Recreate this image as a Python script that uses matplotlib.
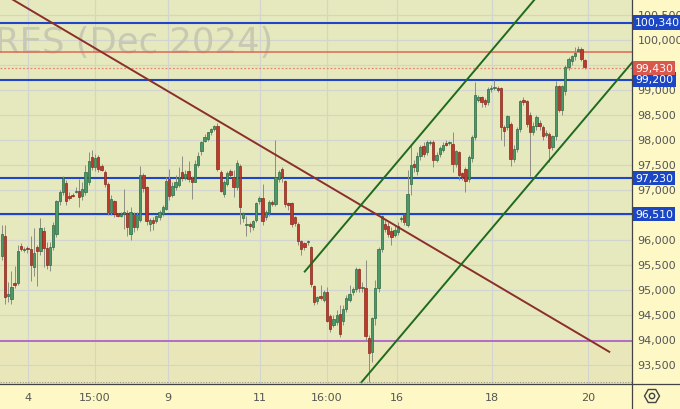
import numpy as np
import matplotlib
matplotlib.use("Agg")
import matplotlib.pyplot as plt
from matplotlib.ticker import FuncFormatter
from matplotlib.patches import RegularPolygon, Circle
from matplotlib.lines import Line2D
import matplotlib.transforms as mtransforms

# === candles (hourly bars) ===
opens = [
    95680, 96075, 94880, 94810, 95130, 95130, 95870, 95800, 95815, 95810,
    95460, 95860, 95775, 96180, 95840, 95500, 95850, 96110, 96780, 96950,
    97130, 96880, 96900, 96950, 96980, 96870, 96960, 97150, 97645, 97445,
    97650, 97475, 97345, 97110, 96550, 96770, 96510, 96480, 96520, 96530,
    96110, 96500, 96255, 96390, 97295, 97055, 96320, 96400, 96375, 96450,
    96510, 96615, 97210, 96890, 97050, 97100, 97345, 97230, 97365, 97230,
    97160, 97500, 97775, 97975, 98010, 98145, 98210, 98275, 97345, 96910,
    97110, 97365, 97255, 97045, 97475, 96430, 96300, 96320, 96255, 96400,
    96780, 96830, 96445, 96525, 96760, 96710, 97210, 97410, 97175, 96725,
    96725, 96445, 96310, 95965, 95925, 95950, 95845, 95075, 94765, 94870,
    94800, 94950, 94475, 94300, 94360, 94510, 94375, 94610, 94790, 94960,
    95010, 95410, 95030, 95025, 94025, 93745, 94425, 95025, 95810, 96310,
    96275, 96175, 96100, 96150, 96410, 96490, 96300, 97110, 97510, 97375,
    97675, 97875, 97745, 97930, 97950, 97600, 97710, 97800, 97930, 97930,
    97910, 97510, 97760, 97325, 97410, 97210, 97625, 98045, 98800, 98845,
    98790, 98745, 99010, 99030, 99030, 99025, 98245, 98245, 98310, 97610,
    97805, 98210, 98790, 98775, 98490, 98150, 98280, 98330, 98245, 98100,
    98110, 97845, 98075, 99070, 98600, 98975, 99445, 99575, 99665, 99775,
    99810, 99595,
]
highs = [
    96290, 96300, 95150, 95375, 95480, 95900, 95930, 95850, 95880, 96075,
    96225, 95900, 96425, 96250, 95950, 95950, 96350, 96800, 97000, 97280,
    97200, 96950, 96930, 97045, 97210, 97150, 97500, 97750, 97800, 97720,
    97700, 97520, 97400, 97150, 96900, 96800, 96540, 96550, 97010, 96600,
    96650, 96560, 96560, 97480, 97330, 97080, 96430, 96450, 96500, 96600,
    96700, 97250, 97410, 97150, 97300, 97450, 97675, 97400, 97575, 97280,
    97600, 97750, 97980, 98110, 98160, 98230, 98300, 98325, 97400, 97200,
    97380, 97420, 97400, 97600, 97520, 96560, 96475, 96350, 96400, 96750,
    96880, 97110, 96600, 96800, 96800, 97990, 97400, 97450, 97200, 96760,
    96760, 96480, 96350, 96000, 95950, 95990, 95880, 95100, 94880, 95100,
    95000, 95050, 94520, 94500, 94600, 94700, 94700, 94900, 95100, 95050,
    95450, 95430, 95150, 95600, 94100, 94450, 95200, 95850, 96500, 96400,
    96350, 96250, 96300, 96350, 96480, 96520, 97400, 97900, 97600, 97750,
    97900, 97950, 98000, 98000, 98000, 97750, 97880, 97950, 97990, 97980,
    98150, 97800, 97780, 97350, 97450, 97700, 98100, 99150, 98900, 98880,
    98830, 99050, 99100, 99200, 99080, 99060, 98300, 98500, 98350, 97900,
    98250, 98800, 98850, 98800, 98550, 98350, 98500, 98400, 98300, 98200,
    98150, 98100, 99175, 99100, 99100, 99500, 99650, 99700, 99850, 99880,
    99850, 99620,
]
lows = [
    95600, 94710, 94750, 94710, 95040, 95100, 95780, 95760, 95740, 95175,
    95275, 95075, 95700, 95450, 95410, 95380, 95800, 96050, 96700, 96900,
    96700, 96790, 96850, 96930, 96650, 96800, 96900, 97100, 97400, 97380,
    97350, 97380, 97050, 96500, 96500, 96450, 96450, 96450, 96210, 96075,
    96000, 96150, 96200, 96350, 96950, 96300, 96180, 96200, 96330, 96400,
    96480, 96600, 96800, 96850, 97000, 97050, 97180, 97200, 97150, 96810,
    97150, 97450, 97700, 97950, 97980, 98100, 98180, 97380, 96950, 96850,
    97080, 97250, 96850, 97000, 96310, 96350, 96075, 96150, 96200, 96350,
    96720, 96300, 96400, 96480, 96680, 96680, 97150, 97150, 96650, 96600,
    96250, 96280, 95900, 95700, 95800, 95900, 95050, 94700, 94720, 94800,
    94750, 94350, 94150, 94250, 94300, 94050, 94300, 94550, 94750, 94900,
    94950, 94950, 94950, 94000, 93145, 93550, 94300, 94950, 95750, 96150,
    96050, 95900, 96050, 96100, 96350, 96300, 96250, 96900, 97350, 97300,
    97600, 97650, 97700, 97900, 97450, 97550, 97650, 97750, 97880, 97900,
    97350, 97450, 97200, 97200, 96945, 97150, 97550, 98000, 98750, 98650,
    98650, 98700, 98950, 98990, 98950, 98000, 97875, 98200, 97475, 97550,
    97750, 98150, 98700, 98250, 97265, 98100, 98200, 98200, 98000, 98050,
    97545, 97800, 98000, 98550, 98500, 98900, 99400, 99500, 99600, 99750,
    99580, 99420,
]
closes = [
    96110, 94845, 94920, 95050, 95090, 95775, 95820, 95815, 95810, 95490,
    95725, 95780, 96225, 95840, 95500, 95850, 96300, 96770, 96960, 97225,
    96780, 96830, 96870, 96970, 96850, 97020, 97345, 97575, 97445, 97640,
    97420, 97400, 97110, 96550, 96810, 96510, 96480, 96510, 96560, 96255,
    96550, 96255, 96500, 97295, 97030, 96365, 96390, 96330, 96475, 96550,
    96655, 97180, 96875, 97070, 97150, 97230, 97230, 97320, 97210, 97150,
    97510, 97675, 97945, 98050, 98145, 98210, 98275, 97410, 96975, 97145,
    97325, 97295, 97045, 97525, 96645, 96525, 96320, 96270, 96365, 96725,
    96830, 96365, 96545, 96755, 96720, 97245, 97345, 97245, 96710, 96700,
    96310, 96325, 95975, 95810, 95845, 95965, 95110, 94745, 94855, 94830,
    94950, 94375, 94210, 94420, 94490, 94110, 94610, 94830, 94910, 95010,
    95410, 95025, 95060, 94075, 93730, 94425, 95025, 95810, 96475, 96210,
    96110, 96045, 96200, 96280, 96440, 96345, 96910, 97500, 97445, 97675,
    97845, 97710, 97945, 97960, 97600, 97700, 97840, 97900, 97900, 97935,
    97510, 97775, 97300, 97245, 97175, 97645, 98045, 98900, 98850, 98745,
    98720, 99010, 99040, 99035, 98990, 98245, 98175, 98475, 97610, 97810,
    98210, 98775, 98760, 98310, 98145, 98280, 98450, 98270, 98075, 98130,
    97825, 98075, 99075, 98600, 99075, 99445, 99610, 99665, 99730, 99810,
    99610, 99445,
]

# time axis labels and the bar each one sits on
time_labels = ["4", "15:00", "9", "11", "16:00", "16", "18", "20"]
time_label_bars = [8.2, 29.0, 51.7, 80.2, 101.0, 122.8, 152.3, 182.1]

# === levels ===
blue_levels = [100340, 99200, 97230, 96510]
red_level = 99760
last_price = 99430
purple_level = 93975

# trend lines as (bar, price) anchors
down_trend = [(-3.6, 101065), (188.9, 93744)]
channel_top = [(93.9, 95344), (168.7, 101046)]
channel_bottom = [(111.5, 93130), (198.2, 99728)]

# === figure ===
W, H = 680, 410
fig = plt.figure(figsize=(W / 100, H / 100), dpi=100)
fig.patch.set_facecolor("#fdf8c6")
ax = fig.add_axes([0, 25 / H, 632 / W, 385 / H])
ax.set_facecolor("#e6e8bd")

ax.set_xlim(-0.53, 195.7)
ax.set_ylim(93110, 100810)

o = np.array(opens, dtype=float)
h = np.array(highs, dtype=float)
l = np.array(lows, dtype=float)
c = np.array(closes, dtype=float)
bars = np.arange(len(c))

# grid
ax.set_xticks(time_label_bars)
ax.set_xticklabels(time_labels)
ax.set_yticks(np.arange(93500, 100501, 500))
ax.yaxis.set_major_formatter(FuncFormatter(lambda v, p: f"{v:,.0f}"))
ax.yaxis.tick_right()
ax.grid(True, color="#d2d5cf", lw=0.8, zorder=0)
ax.set_axisbelow(True)
ax.tick_params(axis="both", length=0, colors="#555555", labelsize=8)
ax.tick_params(axis="x", pad=6)
ax.tick_params(axis="y", pad=4)
for s in ax.spines.values():
    s.set_visible(False)

# zone under the purple level
ax.axhspan(93110, purple_level, color="#e9e6b9", zorder=0.5)

# watermark
ax.text(0.432, 0.862, "FUTURES (Dec 2024)", transform=ax.transAxes,
        ha="right", va="baseline", fontsize=25.5, color="#c8c9b2",
        zorder=1, clip_on=True)

# horizontal levels
for lv in blue_levels:
    ax.axhline(lv, color="#1f45c8", lw=1.5, zorder=2)
ax.axhline(red_level, color="#e06850", lw=1.1, zorder=2)
ax.axhline(last_price, color="#e8876c", lw=0.9, ls=(0, (1.5, 1.5)), zorder=2)
ax.axhline(purple_level, color="#b36cc6", lw=1.4, zorder=2)

# trend lines
for pts, col in [(down_trend, "#8b2f2a"), (channel_top, "#1e6b1e"),
                 (channel_bottom, "#1e6b1e")]:
    xs, ys = zip(*pts)
    ax.plot(xs, ys, color=col, lw=1.4, zorder=5, solid_capstyle="butt")

# candles
ax.vlines(bars, l, h, color="#8d8d85", lw=0.7, zorder=3)
up = c >= o
lo = np.minimum(o, c)
ht = np.maximum(np.abs(c - o), 14)
ax.bar(bars[up], ht[up], bottom=lo[up], width=0.72, color="#4c9868",
       edgecolor="#2c6a44", lw=0.5, zorder=4)
ax.bar(bars[~up], ht[~up], bottom=lo[~up], width=0.72, color="#c03a2c",
       edgecolor="#8a281d", lw=0.5, zorder=4)

# bottom dotted edge
ax.plot([0, 1], [0.005, 0.005], transform=ax.transAxes, color="#9a9a90",
        lw=0.8, ls=(0, (1, 1.5)), zorder=6)

# price tags on the right scale
trans = mtransforms.blended_transform_factory(ax.transAxes, ax.transData)
tags = [(lv, "#1c47c4") for lv in blue_levels] + [(last_price, "#d9574b")]
for lv, col in tags:
    ax.text(1.0 + 3 / 632, lv, f"{lv:,.0f}", transform=trans, ha="left",
            va="center", fontsize=7.8, color="white", zorder=10,
            clip_on=False,
            bbox=dict(boxstyle="square,pad=0.22", fc=col, ec="none"))

# frame lines of the chart panel
fig.add_artist(Line2D([632 / W, 632 / W], [0, 1], color="#444444", lw=0.9))
fig.add_artist(Line2D([0, 1], [25 / H, 25 / H], color="#444444", lw=0.9))

# settings icon
fig.add_artist(RegularPolygon((6.52, 0.13), 6, radius=0.075,
                              orientation=np.pi / 6, fill=False,
                              ec="#444444", lw=1.0,
                              transform=fig.dpi_scale_trans))
fig.add_artist(Circle((6.52, 0.13), 0.027, fill=False, ec="#444444",
                      lw=1.0, transform=fig.dpi_scale_trans))

fig.savefig("out.png", dpi=100, facecolor=fig.get_facecolor())
